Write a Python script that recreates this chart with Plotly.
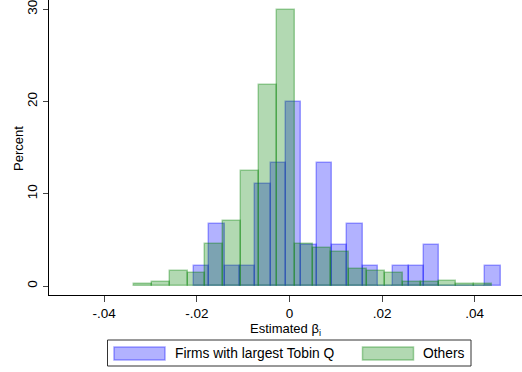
import plotly.graph_objects as go

# ---- data ----
tobin_bin_start = -0.0206
tobin_bin_width = 0.00331
tobin_pct = [2.2, 6.7, 2.2, 2.2, 11.1, 13.3, 20.0, 4.4, 13.3, 4.4,
             6.7, 2.2, 0.0, 2.2, 2.2, 4.4, 0.0, 0.0, 0.0, 2.2]

others_bin_start = -0.0336
others_bin_width = 0.00387
others_pct = [0.2, 0.4, 1.6, 1.4, 4.6, 7.1, 12.5, 21.8, 29.9, 4.6,
              4.1, 3.7, 1.9, 1.6, 1.4, 0.4, 0.4, 0.6, 0.2, 0.2]

x_tick_vals = [-0.04, -0.02, 0, 0.02, 0.04]
x_tick_text = ["-.04", "-.02", "0", ".02", ".04"]
y_tick_vals = [0, 10, 20, 30]
y_tick_text = ["0", "10", "20", "30"]

series_names = ["Firms with largest Tobin Q", "Others"]
x_title = "Estimated β<sub>i</sub>"
y_title = "Percent"

# ---- styles ----
W, H = 522, 372
ML, MR, MT, MB = 49, 0, 0, 77
FONT = "Liberation Sans, Arial, Helvetica, sans-serif"
BLUE_FILL = "rgba(0,0,255,0.30)"
BLUE_LINE = "rgba(0,0,255,0.35)"
GREEN_FILL = "rgba(0,128,0,0.30)"
GREEN_LINE = "rgba(0,128,0,0.35)"
FS = 13.5


def centers(start, width, n):
    return [start + width * (i + 0.5) for i in range(n)]


fig = go.Figure()
fig.add_trace(go.Bar(
    x=centers(tobin_bin_start, tobin_bin_width, len(tobin_pct)),
    y=tobin_pct, width=tobin_bin_width, name=series_names[0],
    marker=dict(color=BLUE_FILL, line=dict(color=BLUE_LINE, width=1.5)),
    showlegend=False,
))
fig.add_trace(go.Bar(
    x=centers(others_bin_start, others_bin_width, len(others_pct)),
    y=others_pct, width=others_bin_width, name=series_names[1],
    marker=dict(color=GREEN_FILL, line=dict(color=GREEN_LINE, width=1.5)),
    showlegend=False,
))

fig.update_layout(
    width=W, height=H,
    margin=dict(l=ML, r=MR, t=MT, b=MB, autoexpand=False),
    paper_bgcolor="white", plot_bgcolor="white",
    barmode="overlay", bargap=0,
    font=dict(family=FONT, size=FS, color="black"),
    showlegend=False,
)
fig.update_xaxes(
    range=[-0.0519, 0.0502], automargin=False,
    tickvals=x_tick_vals, ticktext=x_tick_text,
    ticks="outside", ticklen=6, tickcolor="#444", tickwidth=1,
    showline=True, linecolor="black", linewidth=1.3,
    showgrid=False, zeroline=False,
    title=dict(text=x_title, font=dict(size=13), standoff=1),
    tickfont=dict(size=FS),
)
fig.update_yaxes(
    range=[-0.97, 31.0], automargin=False, ticklabeloverflow="allow",
    tickvals=y_tick_vals, ticktext=y_tick_text, tickangle=-90,
    ticks="outside", ticklen=5, tickcolor="#444", tickwidth=1,
    showline=True, linecolor="black", linewidth=1.3,
    showgrid=False, zeroline=False,
    tickfont=dict(size=FS),
)

# ---- manual legend and y title (pixel -> paper coordinates) ----
pw, ph = W - ML - MR, H - MT - MB


def px(x):
    return (x - ML) / pw


def py(y):
    return (H - MB - y) / ph


shapes = [
    dict(type="rect", xref="paper", yref="paper",
         x0=px(107.5), x1=px(471), y0=py(366), y1=py(340),
         line=dict(color="#333", width=1), fillcolor="white", layer="below"),
    dict(type="rect", xref="paper", yref="paper",
         x0=px(114), x1=px(165), y0=py(360), y1=py(347),
         line=dict(color=BLUE_LINE, width=1.5), fillcolor=BLUE_FILL),
    dict(type="rect", xref="paper", yref="paper",
         x0=px(362.5), x1=px(413.5), y0=py(360), y1=py(347),
         line=dict(color=GREEN_LINE, width=1.5), fillcolor=GREEN_FILL),
]
annotations = [
    dict(xref="paper", yref="paper", x=px(173), y=py(353.5),
         xanchor="left", yanchor="middle", showarrow=False,
         text=series_names[0], font=dict(size=13.8)),
    dict(xref="paper", yref="paper", x=px(421), y=py(353.5),
         xanchor="left", yanchor="middle", showarrow=False,
         text=series_names[1], font=dict(size=13.8)),
    dict(xref="paper", yref="paper", x=px(18), y=py(148),
         xanchor="center", yanchor="middle", showarrow=False,
         textangle=-90, text=y_title, font=dict(size=13)),
]
fig.update_layout(shapes=shapes, annotations=annotations)

fig.write_html(
    "out.html",
    config={"displayModeBar": False},
    post_script="document.body.style.margin='0';document.body.style.padding='0';",
)
